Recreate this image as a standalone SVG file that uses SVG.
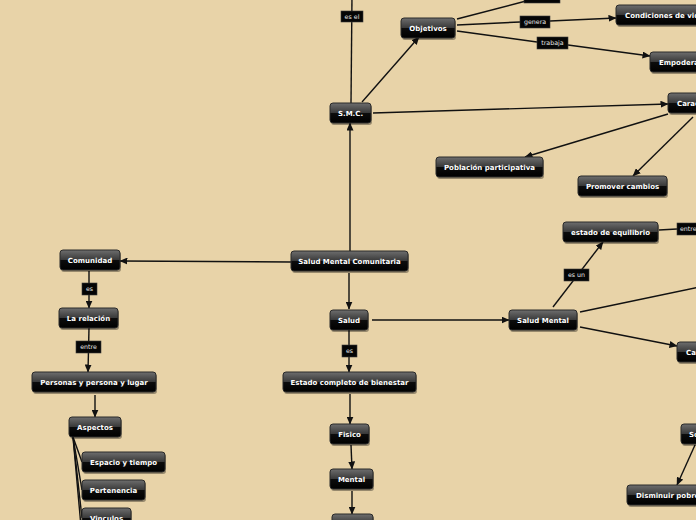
<svg xmlns="http://www.w3.org/2000/svg" width="696" height="520" viewBox="0 0 696 520">
<style>
.bg{fill:#e8d3a8}
.sh{fill:#000;opacity:.35}
.nb{fill:url(#ng);stroke:#2a2a2a;stroke-width:1}
.nt{font-family:"DejaVu Sans",Verdana,sans-serif;font-weight:bold;font-size:7px;fill:#fff;text-anchor:middle}
.ns{text-anchor:start}
.lb{fill:#050505;stroke:#3a3a3a;stroke-width:.6}
.lt{font-family:"DejaVu Sans",Verdana,sans-serif;font-size:6.3px;fill:#e6e6e6;text-anchor:middle}
.c{stroke:#111;stroke-width:1.4;fill:none}
.a{marker-end:url(#ah)}
</style>
<defs>
<linearGradient id="ng" x1="0" y1="0" x2="0" y2="1">
<stop offset="0" stop-color="#6e6e6e"/>
<stop offset=".5" stop-color="#383838"/>
<stop offset=".52" stop-color="#0c0c0c"/>
<stop offset="1" stop-color="#000"/>
</linearGradient>
<marker id="ah" markerUnits="userSpaceOnUse" markerWidth="8" markerHeight="7" refX="7.5" refY="3.5" orient="auto">
<path d="M0,0 L8,3.5 L0,7 z" fill="#111"/>
</marker>
</defs>
<rect class="bg" x="0" y="0" width="696" height="520"/>

<g id="connectors">
<path class="c" d="M351,103 L352,-5"/>
<path class="c a" d="M362,102 L419,37"/>
<path class="c" d="M457,19 L526,1"/>
<path class="c" d="M457,25 L520,22"/>
<path class="c a" d="M550,21 L616,18"/>
<path class="c" d="M457,31 L537,42"/>
<path class="c a" d="M568,45 L650,56"/>
<path class="c a" d="M373,113 L668,104"/>
<path class="c a" d="M668,114 L525,157"/>
<path class="c a" d="M693,117 L633,176"/>
<path class="c a" d="M350,251 L350,123"/>
<path class="c a" d="M291,262 L120,261"/>
<path class="c a" d="M349,273 L349,309"/>
<path class="c a" d="M372,320 L509,320"/>
<path class="c a" d="M349,330 L349,372"/>
<path class="c a" d="M350,394 L350,424"/>
<path class="c a" d="M351,445 L352,469"/>
<path class="c a" d="M352,491 L352,514"/>
<path class="c a" d="M553,307 L603,242"/>
<path class="c" d="M659,230 L677,229"/>
<path class="c" d="M580,312 L700,287"/>
<path class="c a" d="M580,327 L677,346"/>
<path class="c a" d="M89,271 L89,308"/>
<path class="c a" d="M89,328 L88,372"/>
<path class="c a" d="M95,395 L95,417"/>
<path class="c" d="M73,437 L82,462"/>
<path class="c" d="M73,437 L82,490"/>
<path class="c" d="M73,437 L82,518"/>
<path class="c" d="M73,437 L84,560"/>
<path class="c a" d="M695,445 L677,485"/>
</g>

<g id="labels">
<g id="l-top"><rect class="lb" x="524" y="-10" width="36" height="13"/></g>
<g id="l-esel"><rect class="lb" x="341" y="11" width="22" height="11"/><text class="lt" x="352" y="18.8">es el</text></g>
<g id="l-genera"><rect class="lb" x="520" y="16" width="30" height="12"/><text class="lt" x="535" y="24.3">genera</text></g>
<g id="l-trabaja"><rect class="lb" x="537" y="37" width="31" height="12"/><text class="lt" x="552.5" y="45.3">trabaja</text></g>
<g id="l-esun"><rect class="lb" x="564" y="269" width="25" height="12"/><text class="lt" x="576.5" y="277.3">es un</text></g>
<g id="l-entre2"><rect class="lb" x="677" y="223" width="30" height="12"/><text class="lt" x="680" y="231.3" style="text-anchor:start">entre</text></g>
<g id="l-es1"><rect class="lb" x="82" y="283" width="15" height="12"/><text class="lt" x="89.5" y="291.3">es</text></g>
<g id="l-entre1"><rect class="lb" x="76" y="341" width="25" height="12"/><text class="lt" x="88.5" y="349.3">entre</text></g>
<g id="l-es2"><rect class="lb" x="342" y="345" width="15" height="12"/><text class="lt" x="349.5" y="353.3">es</text></g>
</g>

<g id="n-objetivos"><rect class="sh" x="402" y="20" width="54" height="20" rx="3"/><rect class="nb" x="401" y="18" width="54" height="20" rx="3"/><text class="nt" x="428" y="30.5">Objetivos</text></g>
<g id="n-condiciones"><rect class="sh" x="617" y="7" width="110" height="20" rx="3"/><rect class="nb" x="616" y="5" width="110" height="20" rx="3"/><text class="nt ns" x="625" y="17.5">Condiciones de vida</text></g>
<g id="n-empodera"><rect class="sh" x="651" y="54" width="90" height="20" rx="3"/><rect class="nb" x="650" y="52" width="90" height="20" rx="3"/><text class="nt ns" x="659" y="64.5">Empoderamiento</text></g>
<g id="n-smc"><rect class="sh" x="331" y="105" width="41" height="20" rx="3"/><rect class="nb" x="330" y="103" width="41" height="20" rx="3"/><text class="nt" x="350.5" y="115.5">S.M.C.</text></g>
<g id="n-carac"><rect class="sh" x="669" y="95" width="90" height="20" rx="3"/><rect class="nb" x="668" y="93" width="90" height="20" rx="3"/><text class="nt ns" x="677" y="105.5">Características</text></g>
<g id="n-poblacion"><rect class="sh" x="437" y="159" width="107" height="20" rx="3"/><rect class="nb" x="436" y="157" width="107" height="20" rx="3"/><text class="nt" x="489.5" y="169.5">Población participativa</text></g>
<g id="n-promover"><rect class="sh" x="579" y="178" width="89" height="20" rx="3"/><rect class="nb" x="578" y="176" width="89" height="20" rx="3"/><text class="nt" x="622.5" y="188.5">Promover cambios</text></g>
<g id="n-equilibrio"><rect class="sh" x="564" y="224" width="95" height="20" rx="3"/><rect class="nb" x="563" y="222" width="95" height="20" rx="3"/><text class="nt" x="610.5" y="234.5">estado de equilibrio</text></g>
<g id="n-saludmental"><rect class="sh" x="510" y="312" width="68" height="20" rx="3"/><rect class="nb" x="509" y="310" width="68" height="20" rx="3"/><text class="nt" x="543" y="322.5">Salud Mental</text></g>
<g id="n-ca"><rect class="sh" x="678" y="344" width="90" height="20" rx="3"/><rect class="nb" x="677" y="342" width="90" height="20" rx="3"/><text class="nt ns" x="686" y="354.5">Características</text></g>
<g id="n-smcom"><rect class="sh" x="292" y="253" width="117" height="20" rx="3"/><rect class="nb" x="291" y="251" width="117" height="20" rx="3"/><text class="nt" x="349.5" y="263.5">Salud Mental Comunitaria</text></g>
<g id="n-comunidad"><rect class="sh" x="61" y="252" width="60" height="20" rx="3"/><rect class="nb" x="60" y="250" width="60" height="20" rx="3"/><text class="nt" x="90" y="262.5">Comunidad</text></g>
<g id="n-relacion"><rect class="sh" x="60" y="310" width="59" height="20" rx="3"/><rect class="nb" x="59" y="308" width="59" height="20" rx="3"/><text class="nt" x="88.5" y="320.5">La relación</text></g>
<g id="n-personas"><rect class="sh" x="33" y="374" width="124" height="20" rx="3"/><rect class="nb" x="32" y="372" width="124" height="20" rx="3"/><text class="nt" x="94" y="384.5">Personas y persona y lugar</text></g>
<g id="n-aspectos"><rect class="sh" x="70" y="419" width="52" height="20" rx="3"/><rect class="nb" x="69" y="417" width="52" height="20" rx="3"/><text class="nt" x="95" y="429.5">Aspectos</text></g>
<g id="n-espacio"><rect class="sh" x="83" y="454" width="83" height="20" rx="3"/><rect class="nb" x="82" y="452" width="83" height="20" rx="3"/><text class="nt" x="123.5" y="464.5">Espacio y tiempo</text></g>
<g id="n-pertenencia"><rect class="sh" x="83" y="482" width="63" height="20" rx="3"/><rect class="nb" x="82" y="480" width="63" height="20" rx="3"/><text class="nt" x="113.5" y="492.5">Pertenencia</text></g>
<g id="n-vinculos"><rect class="sh" x="83" y="510" width="49" height="20" rx="3"/><rect class="nb" x="82" y="508" width="49" height="20" rx="3"/><text class="nt" x="106.5" y="520.5">Vinculos</text></g>
<g id="n-salud"><rect class="sh" x="331" y="312" width="38" height="20" rx="3"/><rect class="nb" x="330" y="310" width="38" height="20" rx="3"/><text class="nt" x="349" y="322.5">Salud</text></g>
<g id="n-estado"><rect class="sh" x="284" y="374" width="133" height="20" rx="3"/><rect class="nb" x="283" y="372" width="133" height="20" rx="3"/><text class="nt" x="349.5" y="384.5">Estado completo de bienestar</text></g>
<g id="n-fisico"><rect class="sh" x="331" y="426" width="39" height="20" rx="3"/><rect class="nb" x="330" y="424" width="39" height="20" rx="3"/><text class="nt" x="349.5" y="436.5">Fisico</text></g>
<g id="n-mental"><rect class="sh" x="331" y="471" width="43" height="20" rx="3"/><rect class="nb" x="330" y="469" width="43" height="20" rx="3"/><text class="nt" x="351.5" y="481.5">Mental</text></g>
<g id="n-bottom"><rect class="sh" x="333" y="516" width="41" height="20" rx="3"/><rect class="nb" x="332" y="514" width="41" height="20" rx="3"/></g>
<g id="n-so"><rect class="sh" x="682" y="426" width="60" height="20" rx="3"/><rect class="nb" x="681" y="424" width="60" height="20" rx="3"/><text class="nt ns" x="689" y="436.5">Social</text></g>
<g id="n-disminuir"><rect class="sh" x="628" y="487" width="100" height="20" rx="3"/><rect class="nb" x="627" y="485" width="100" height="20" rx="3"/><text class="nt ns" x="636" y="497.5">Disminuir pobreza</text></g>
</svg>
